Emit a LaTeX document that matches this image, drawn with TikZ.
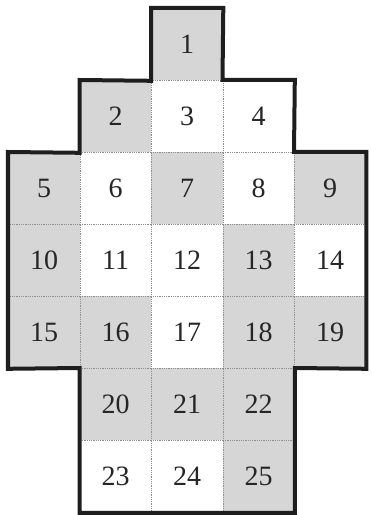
\documentclass[tikz,border=0pt]{standalone}
\usepackage{fontspec}
\setmainfont{Liberation Serif}
\usetikzlibrary{positioning}
\definecolor{cellgray}{HTML}{D6D6D6}
\definecolor{gridgray}{HTML}{8E8E8E}
\definecolor{rim}{HTML}{1E1E1E}

\begin{document}
\begin{tikzpicture}[x=71.5pt, y=-72pt, every node/.style={font=\fontsize{28}{32}\selectfont, text=black!85}, cell/.style={draw=gridgray, line width=0.8pt, densely dotted, minimum width=71.5pt, minimum height=72pt, inner sep=0pt, anchor=north west}, dark/.style={cell, fill=cellgray}, light/.style={cell, fill=white}, outline/.style={draw=rim, line width=4pt, line join=miter}]
    \useasboundingbox (-8/71.5,-8/72) rectangle (362/71.5,507/72);
    % cells: number / column / row / style
    \foreach \n/\c/\r/\s in {1/2/0/dark,
        2/1/1/dark, 3/2/1/light, 4/3/1/light,
        5/0/2/dark, 6/1/2/light, 7/2/2/dark, 8/3/2/light, 9/4/2/dark,
        10/0/3/dark, 11/1/3/light, 12/2/3/light, 13/3/3/dark, 14/4/3/light,
        15/0/4/dark, 16/1/4/dark, 17/2/4/light, 18/3/4/dark, 19/4/4/dark,
        20/1/5/dark, 21/2/5/dark, 22/3/5/dark,
        23/1/6/light, 24/2/6/light, 25/3/6/dark}
      \node[\s] (c\n) at (\c,\r) {\n};
    % outer rim
    \draw[outline] (c1.north west) -- (c1.north east) -- (c4.north west) -- (c4.north east)
      -- (c9.north west) -- (c9.north east) -- (c19.south east) -- (c22.north east)
      -- (c25.south east) -- (c23.south west) -- (c20.north west) -- (c15.south west)
      -- (c5.north west) -- (c2.south west) -- (c2.north west) -- (c1.south west) -- cycle;
  \end{tikzpicture}
\end{document}
